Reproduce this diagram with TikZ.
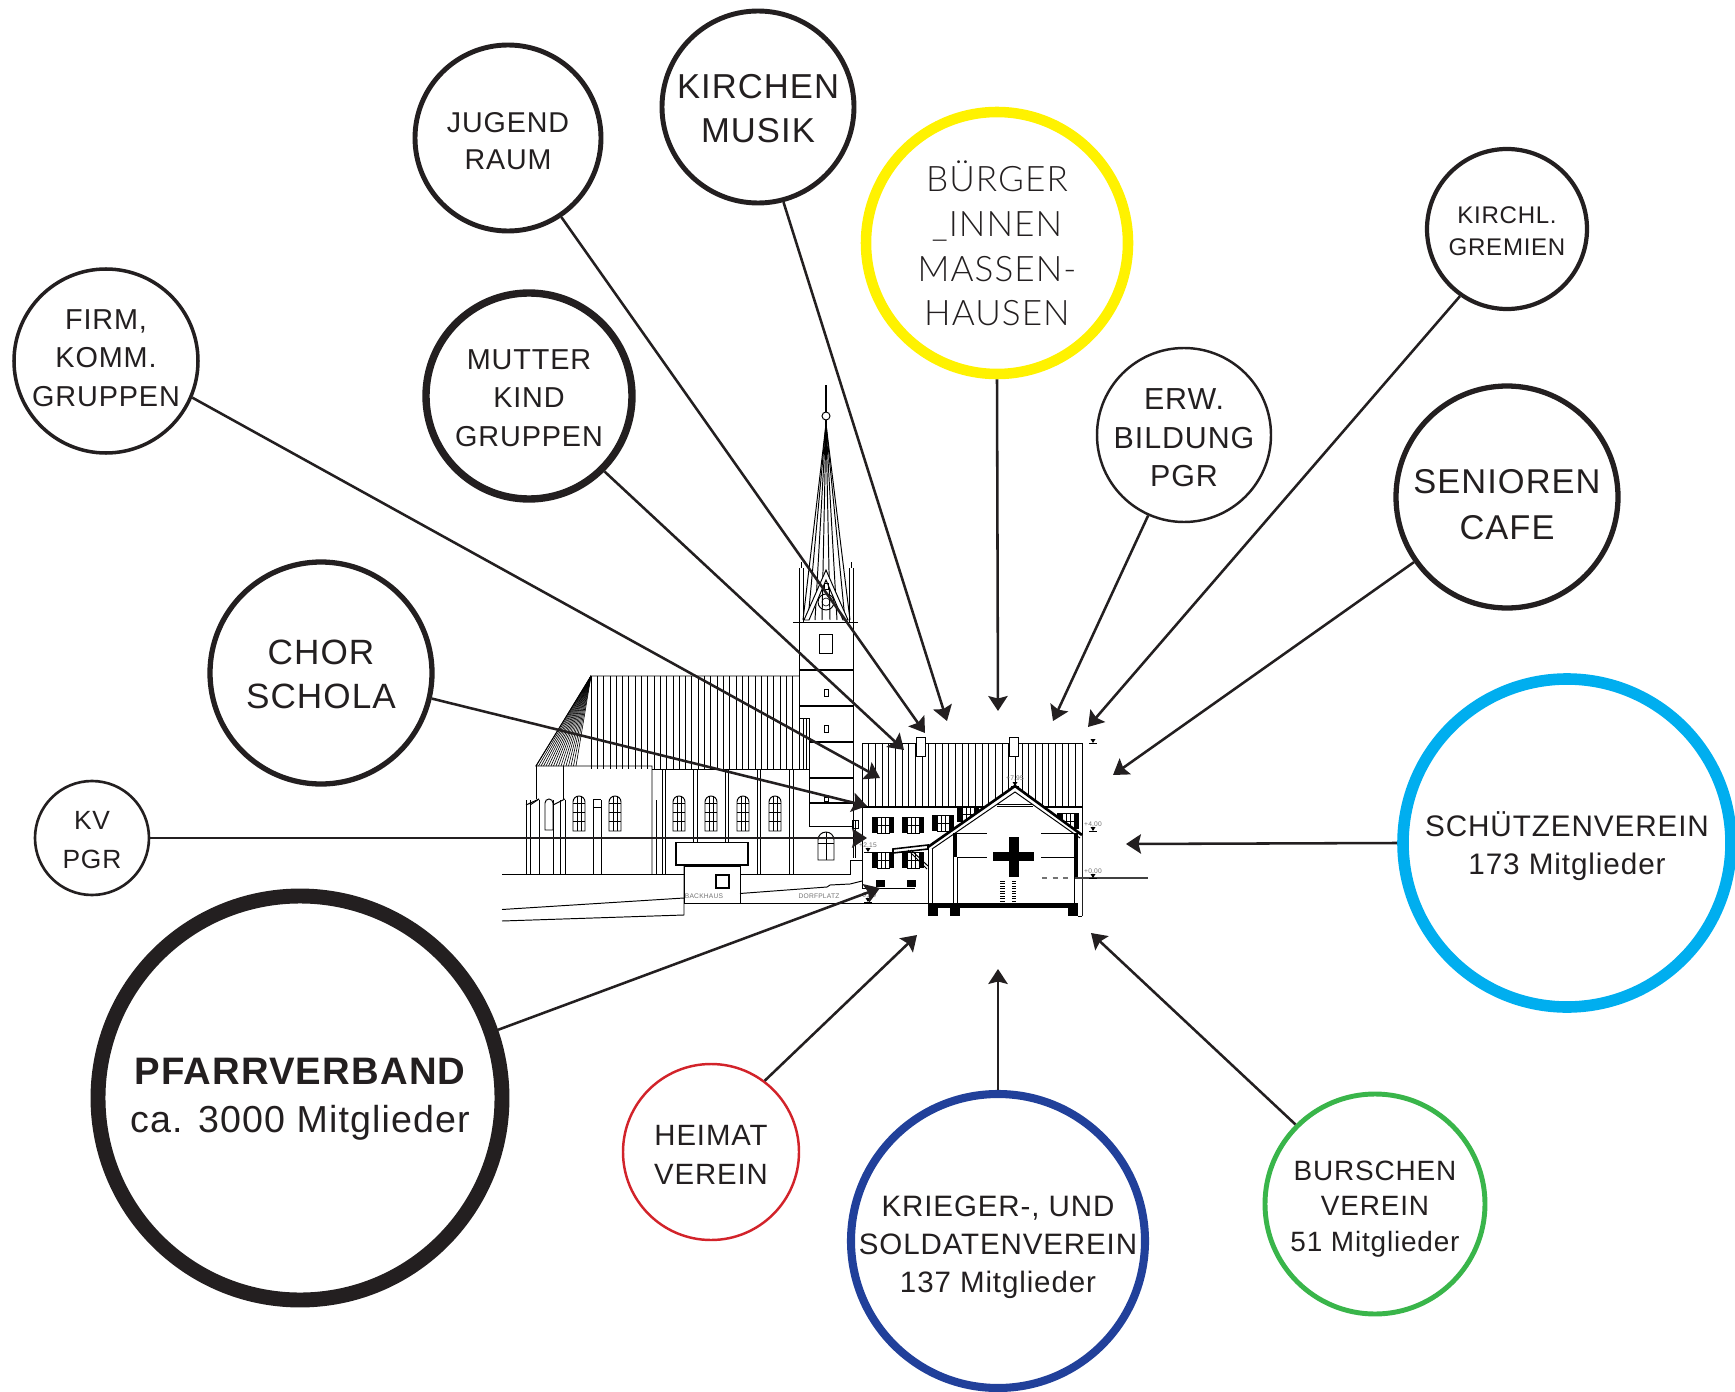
\documentclass[tikz,border=0pt]{standalone}
\usepackage{fontspec}
\setmainfont{Liberation Sans}[LetterSpace=3]
\newfontfamily\lightfont{Lato Light}[LetterSpace=3]
\usetikzlibrary{arrows.meta}
\definecolor{ink}{HTML}{231F20}
\definecolor{ringYellow}{HTML}{FFF200}
\definecolor{ringBlue}{HTML}{00AEEF}
\definecolor{ringNavy}{HTML}{21409A}
\definecolor{ringGreen}{HTML}{39B54A}
\definecolor{ringRed}{HTML}{D2232A}

\begin{document}
\begin{tikzpicture}
[x=0.02cm,y=-0.02cm,%
  planThin/.style={draw=black,line width=0.35pt},%
  planLine/.style={draw=black,line width=0.55pt},%
  planHeavy/.style={draw=black,line width=0.9pt},%
  planTiny/.style={text=black!55,font=\fontsize{3.8}{4}\selectfont,inner sep=0pt},%
  arrowLine/.style={-{Stealth[length=8.5pt,width=11pt,inset=1.4pt]},draw=ink,line width=1.45pt},%
  ringNode/.style={shape=circle,fill=white,inner sep=0pt},%
  ringText/.style={inner sep=0pt,align=center,text=ink}]
\useasboundingbox (0,0) rectangle (1735,1392);
%% church roof
\foreach \x in {591,597.3,...,800} {\draw[planThin] (\x,676) -- (\x,769);}
\foreach \x in {803,806.5} {\draw[planThin] (\x,718) -- (\x,769);}
\foreach \x in {536,538.5,...,578} {\draw[planThin] (591,676) -- (\x,766);}
\draw[planLine] (799,718) -- (809,718) -- (809,769) -- (652,769);
\draw[planLine] (799,676) -- (591,676) -- (536,766) -- (652,766) -- (652,874);
\draw[planLine] (502,874) -- (850,874) -- (850,860) -- (862,860);
%% church walls and buttresses
\draw[planLine] (536,766) -- (536,799);
\draw[planLine] (563,766) -- (563,799);
\foreach \x in {526,530,539,553,560,565,593,601,656,662,665,693,697,725,728,757,760,789,793}
{
  \draw[planLine] (\x,800) -- (\x,874);
}
\foreach \x in {662,665,693,697,725,728,757,760,789,793} {\draw[planLine] (\x,769) -- (\x,800);}
\draw[planLine] (526,805) -- (539,799);
\draw[planLine] (530,805) -- (539,799);
\draw[planLine] (553,805) -- (565,799);
\draw[planLine] (593,799) -- (601,799) (593,807) -- (601,807);
\draw[planLine] (545,830) -- (545,803) arc[start angle=180,end angle=360,radius=4] -- (553,830) -- cycle;
%% arched windows
\foreach \x in {579,615,679,711,743,775}
{
  \draw[planLine,fill=white] (\x-6,831) -- (\x-6,802) arc[start angle=180,end angle=360,radius=6] -- (\x+6,831) -- cycle;
  \draw[planThin] (\x-2,796) -- (\x-2,831) (\x+2,796) -- (\x+2,831);
  \draw[planThin] (\x-6,803) -- (\x+6,803) (\x-6,812) -- (\x+6,812) (\x-6,821) -- (\x+6,821);
}
%% tower
\foreach \x/\y in {809/742, 809/778, 809/803} {\draw[planHeavy] (\x,\y) -- (853,\y);}
\foreach \y in {670,706} {\draw[planHeavy] (799,\y) -- (853,\y);}
\draw[planLine] (793,622) -- (858,622);
\draw[planLine] (799,622) -- (799,718);
\draw[planLine] (809,742) -- (809,826) -- (853,826);
\draw[planLine] (853,622) -- (853,858);
\draw[planLine] (819,634) rectangle (832,653);
\foreach \y in {689,725} {\draw[planLine] (824,\y) rectangle (828,\y+7);}
\draw[planLine] (824,797) rectangle (828,801);
\draw[planLine] (818,860) -- (818,840) arc[start angle=180,end angle=360,radius=8] -- (834,860) -- cycle;
\draw[planThin] (826,832) -- (826,860) (818,843) -- (834,843);
\draw[planLine] (855,820) -- (855,858);
\draw[planLine] (852,820) -- (858,820) -- (858,828) -- (852,828) -- cycle;
%% spire
\foreach \x in {803,808,815,822,830,837,845,850} {\draw[planLine] (826,424) -- (\x,620);}
\draw[planHeavy] (826,385) -- (826,424);
\draw[planLine,fill=white] (826,416) circle[radius=4];
\draw[planLine,fill=white] (804,620) -- (826,570) -- (848,620) -- (843,620) -- (826,580) -- (809,620) -- cycle;
\draw[planLine] (826,602) circle[radius=8];
\draw[planThin] (826,602) circle[radius=4];
\draw[planLine] (824,583) rectangle (828,589);
\foreach \x in {799,803,849,853} {\draw[planLine] (\x,568) -- (\x,622);}
\foreach \x in {801,851} {\draw[planLine] (\x,562) -- (\x,568);}
%% backhaus and ground
\draw[planLine] (502,909.5) -- (684,898);
\draw[planLine] (502,921) -- (684,915) -- (684,866);
\draw[planLine,fill=white] (684,866) rectangle (740,903);
\draw[planHeavy,fill=white] (676,842.5) rectangle (748,865);
\draw[planHeavy] (716,875) rectangle (729,888);
\draw[planLine] (740,903) -- (928,903);
\draw[planLine] (740,893.5) -- (827,887) -- (830,885) -- (850,884) -- (862,881);
\node (backhaus) at (704,896) [planTiny] {BACKHAUS};
\node (dorfplatz) at (819,896) [planTiny] {DORFPLATZ};
%% house roof and front
\foreach \x in {862,868.67,...,1082} {\draw[planThin] (\x,743) -- (\x,807);}
\draw[planLine] (862,743) rectangle (1082,807);
\draw[planHeavy] (862,807) -- (1082,807);
\foreach \x in {916,1009} {\draw[planLine,fill=white] (\x,737) rectangle (\x+9,756);}
\draw[planLine] (862,807) -- (862,888) -- (915,888);
\draw[planLine] (1082,807) -- (1082,916);
\foreach \x/\y in {883/825, 913/825, 943/823, 968/814, 1068/821, 883/860, 913/860}
{
  \fill[black] (\x-11,\y-8) rectangle (\x-6,\y+8);
  \fill[black] (\x+6,\y-8) rectangle (\x+11,\y+8);
  \draw[planLine] (\x-6,\y-8) rectangle (\x+6,\y+8);
  \draw[planLine] (\x-2,\y-8) -- (\x-2,\y+8) (\x+2,\y-8) -- (\x+2,\y+8) (\x-6,\y) -- (\x+6,\y);
}
\foreach \x in {876,907} {\fill[black] (\x,880) rectangle (\x+9,887);}
\draw[planHeavy,fill=white] (893,849) -- (928,845) -- (928,849) -- (893,853) -- cycle;
\draw[planLine] (908,850) -- (927,869) (911,850) -- (928,866);
%% section through the hall
\fill[white] (1015,786) -- (928,847) -- (928,916) -- (1082,916) -- (1082,835) -- cycle;
\draw[draw=black,line width=1.5pt] (928,847) -- (1015,786) -- (1082,835);
\draw[planLine] (932,849) -- (1015,792) -- (1080,838);
\draw[planLine] (997,804) -- (1033,804) (997,806) -- (1033,806);
\draw[planLine] (928,847) -- (928,916) (932,849) -- (932,903);
\draw[planLine] (953,857) -- (953,903) (957,857) -- (957,903);
\draw[planLine] (1074,877) -- (1074,903);
\fill[black] (953,833) rectangle (957,857);
\fill[black] (1074,833) rectangle (1078,877);
\fill[black] (928,903) rectangle (1078,908);
\fill[black] (928,908) rectangle (938,916);
\fill[black] (950,908) rectangle (960,916);
\fill[black] (1068,908) rectangle (1078,916);
\draw[planLine] (1078,916) -- (1082,916);
\foreach \y in {833,857}
{
  \draw[planLine] (957,\y) -- (987,\y);
  \draw[planLine] (1041,\y) -- (1074,\y);
}
\fill[black] (1009,837) rectangle (1019,877);
\fill[black] (993,852) rectangle (1034,861);
\draw[draw=black!55,line width=0.8pt,dashed] (1042,878) -- (1073,878);
\draw[draw=black!75,line width=0.9pt] (1075,878) -- (1148,878);
\foreach \y in {881,883.5,...,902}
{
  \draw[draw=black,line width=0.5pt,densely dashed] (1000,\y) -- (1006,\y);
  \draw[draw=black,line width=0.5pt,densely dashed] (1012,\y) -- (1016,\y);
}
%% level marks
\foreach \x/\y/\gap/\levelname in {1015/786/7/+7{,}95, 1093/831/6/+4{,}00, 1093/878/6/+0{,}00, 868/852/6/+2{,}15, 868/902/6/-0{,}50}
{
  \fill[black] (\x-2.5,\y-4) -- (\x+2.5,\y-4) -- (\x,\y) -- cycle;
  \draw[planLine] (\x-4,\y) -- (\x+4,\y);
  \node at (\x,\y-\gap) [planTiny] {\levelname};
}
\fill[black] (1090.5,739) -- (1095.5,739) -- (1093,743) -- cycle;
\draw[planLine] (1089,743) -- (1097,743);
%% rings
\foreach \nodename/\x/\y/\r/\ringwidth/\ringcolor/\texty/\fontpt/\linept/\ringtext in {
  kirchen/758/107/96/2.8/ink/2/19.7/25/{KIRCHEN\\MUSIK},
  jugend/508/138/93/2.8/ink/3/16.3/21.4/{JUGEND\\RAUM},
  buerger/997/243/131/6/ringYellow/0.5/20/25.5/{\lightfont BÜRGER\\\lightfont\_INNEN\\\lightfont MASSEN-\\\lightfont HAUSEN},
  kirchl/1507/229/80/2.4/ink/2/13.7/18/{KIRCHL.\\GREMIEN},
  firm/106/361/92/2/ink/-3/16.4/22/{FIRM,\\KOMM.\\GRUPPEN},
  mutter/529/396/103/4.2/ink/2/16.4/22/{MUTTER\\KIND\\GRUPPEN},
  erw/1184/435/87/1.4/ink/3/17.3/22/{ERW.\\BILDUNG\\PGR},
  senioren/1507/497/111/3/ink/7.5/19.6/26/{SENIOREN\\CAFE},
  chor/321/673/111/3/ink/1/20/25/{CHOR\\SCHOLA},
  kv/92/838/57/1.5/ink/2/15/22/{KV\\PGR},
  schuetzen/1567/843/164/6.6/ringBlue/3/16.9/21.5/{SCHÜTZENVEREIN\\173 Mitglieder},
  pfarr/300/1098/202/8.5/ink/1/21.4/27/{\fontsize{21.8}{27}\selectfont\bfseries PFARRVERBAND\\\fontsize{21.4}{27}\selectfont ca. 3000 Mitglieder},
  heimat/711/1152/88/1.4/ringRed/3/16.7/22/{HEIMAT\\VEREIN},
  krieger/998/1241/147/4.6/ringNavy/6/16.8/21.5/{KRIEGER-, UND\\SOLDATENVEREIN\\137 Mitglieder},
  burschen/1375/1204/110/2.8/ringGreen/5/15.9/20/{BURSCHEN\\VEREIN\\51 Mitglieder}}
{
  \node (\nodename) at (\x,\y) [ringNode,draw=\ringcolor,line width=\ringwidth pt,
    minimum size={2*\r*0.02cm}] {};
  \node (\nodename Text) at (\x,\y+\texty) [ringText,font=\fontsize{\fontpt}{\linept}\selectfont] {\ringtext};
}
%% connectors
\foreach \nodename/\angle/\x/\y in {kirchen/285.6/947/721, jugend/304/925/733, buerger/270/998/711,
  erw/246.9/1053/721, kirchl/235/1088/727, senioren/215.3/1113/775, schuetzen/180/1126/844,
  burschen/135.8/1091/933, krieger/90/998/969, heimat/53/917/935, pfarr/19.2/880/888,
  kv/0/867/838, chor/347/867/806, firm/337/880/778, mutter/315.4/904/750}
{
  \coordinate (tip\nodename) at (\x,\y);
  \draw[arrowLine] (\nodename.\angle) -- (tip\nodename);
}
\end{tikzpicture}
\end{document}
